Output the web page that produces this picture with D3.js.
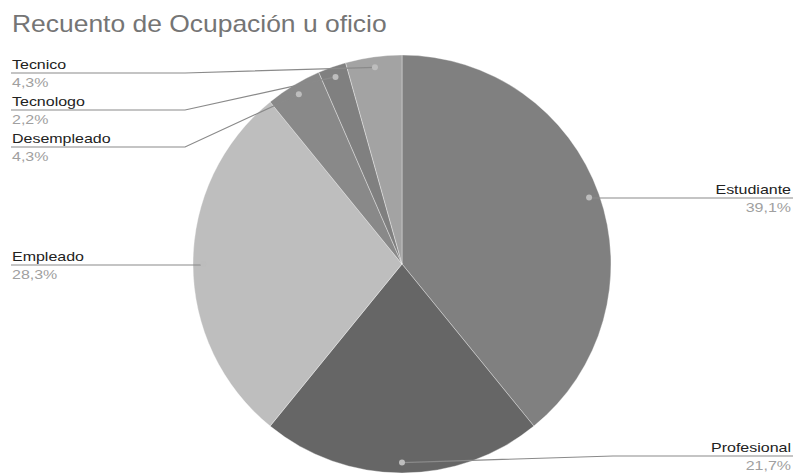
<!DOCTYPE html>
<html>
<head>
<meta charset="utf-8">
<script src="https://cdn.jsdelivr.net/npm/d3@7.9.0/dist/d3.min.js"></script>
<style>
  body { margin: 0; background: #fff; }
  svg { display: block; font-family: "Liberation Sans", Arial, sans-serif; }
</style>
</head>
<body>
<svg id="chart" width="794" height="475"></svg>
<script>
const categories = ["Estudiante", "Profesional", "Empleado", "Desempleado", "Tecnologo", "Tecnico"];
const counts = [18, 10, 13, 2, 1, 2];
const sliceColors = ["#808080", "#666666", "#bebebe", "#898989", "#808080", "#a3a3a3"];

const width = 794;
const height = 475;
const cx = 402;
const cy = 264;
const radius = 209;
const stretch = 1.23; // text in the reference is drawn a bit wide

const svg = d3.select("#chart");

svg.append("text")
  .attr("transform", `translate(12,32) scale(1.15,1)`)
  .attr("font-size", 23)
  .attr("fill", "#757575")
  .text("Recuento de Ocupación u oficio");

const total = d3.sum(counts);
const data = categories.map((c, i) => ({ label: c, value: counts[i], color: sliceColors[i] }));

const pie = d3.pie().value((d) => d.value).sort(null);
const arc = d3.arc().innerRadius(0).outerRadius(radius);
const dotArc = d3.arc().innerRadius(radius * 0.95).outerRadius(radius * 0.95);
const arcs = pie(data);

const g = svg.append("g").attr("transform", `translate(${cx},${cy})`);

g.selectAll("path")
  .data(arcs)
  .join("path")
  .attr("d", arc)
  .attr("fill", (d) => d.data.color)
  .attr("stroke", "#ffffff")
  .attr("stroke-opacity", 0.35)
  .attr("stroke-width", 1);

const fmt = (v) => d3.format(".1f")((v / total) * 100).replace(".", ",") + "%";

// label placement: side, line y, and optional elbow x
const labelSpec = {
  Estudiante: { side: "right", y: 198 },
  Profesional: { side: "right", y: 456, elbow: 613 },
  Empleado: { side: "left", y: 265 },
  Desempleado: { side: "left", y: 147, elbow: 185 },
  Tecnologo: { side: "left", y: 110, elbow: 185 },
  Tecnico: { side: "left", y: 73, elbow: 185 },
};

const labels = svg.append("g");

arcs.forEach((d) => {
  const [dx, dy] = dotArc.centroid(d);
  const px = cx + dx;
  const py = cy + dy;
  const spec = labelSpec[d.data.label];
  const endX = spec.side === "right" ? 793 : 11;
  const pts = [[px, py]];
  if (spec.elbow) pts.push([spec.elbow, spec.y]);
  else pts.push([spec.side === "right" ? px + 1 : px - 1, spec.y]);
  pts.push([endX, spec.y]);

  labels.append("path")
    .attr("d", d3.line()(pts))
    .attr("fill", "none")
    .attr("stroke", "#8a8a8a")
    .attr("stroke-width", 1.2);

  labels.append("circle")
    .attr("cx", px)
    .attr("cy", py)
    .attr("r", 3)
    .attr("fill", "#bdbdbd");

  const anchor = spec.side === "right" ? "end" : "start";
  const tx = spec.side === "right" ? 791 : 12;

  labels.append("text")
    .attr("transform", `translate(${tx},${spec.y - 4.5}) scale(${stretch},1)`)
    .attr("text-anchor", anchor)
    .attr("font-size", 13)
    .attr("fill", "#222222")
    .text(d.data.label);

  labels.append("text")
    .attr("transform", `translate(${tx},${spec.y + 13.5}) scale(${stretch},1)`)
    .attr("text-anchor", anchor)
    .attr("font-size", 13)
    .attr("fill", "#a0a0a0")
    .text(fmt(d.data.value));
});
</script>
</body>
</html>
